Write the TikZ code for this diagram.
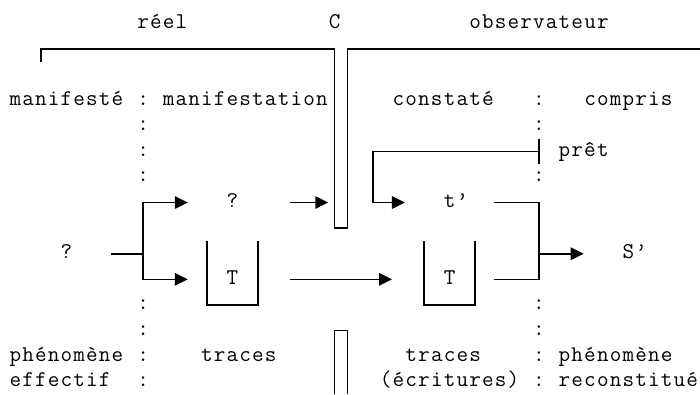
\documentclass[tikz,border=0pt]{standalone}
\usetikzlibrary{arrows.meta}
\newlength\gridcw
\setlength\gridcw{12.77pt}
\def\gridstop{\gridstop}
\def\gridtxt#1{\gridloop#1\gridstop}
\def\gridloop#1{\ifx\gridstop#1\else\hbox to\gridcw{\hss#1\hss}\expandafter\gridloop\fi}
\newcommand\diagfont{\ttfamily\fontsize{22.5}{25}\selectfont}
\tikzset{
  lbl/.style={anchor=base west, inner sep=0pt, outer sep=0pt, font=\diagfont},
  ln/.style={line width=1.6pt, line join=miter},
  arr/.style={ln, -{Triangle[length=13pt,width=12.5pt]}},
}
\begin{document}
\begin{tikzpicture}[x=1pt,y=-1pt]
\useasboundingbox (0,0) rectangle (700,394);
\clip (0,0) rectangle (700,394);
% ---- texts (baseline = row centre + 5)
\node[lbl] (reel) at (136.7,28.4) {\gridtxt{réel}};
\node[lbl] (C) at (328.25,28.4) {\gridtxt{C}};
\node[lbl] (obs) at (468.72,28.4) {\gridtxt{observateur}};
\node[lbl] (manifeste) at (9,105.2) {\gridtxt{manifesté}};
\node[lbl] (c3l) at (136.7,105.2) {\gridtxt{:}};
\node[lbl] (manifestation) at (162.24,105.2) {\gridtxt{manifestation}};
\node[lbl] (constate) at (392.1,105.2) {\gridtxt{constaté}};
\node[lbl] (c3r) at (532.57,105.2) {\gridtxt{:}};
\node[lbl] (compris) at (583.65,105.2) {\gridtxt{compris}};
\node[lbl] (c4l) at (136.7,130.8) {\gridtxt{:}};
\node[lbl] (c4r) at (532.57,130.8) {\gridtxt{:}};
\node[lbl] (c5l) at (136.7,156.4) {\gridtxt{:}};
\node[lbl] (pret) at (558.11,156.4) {\gridtxt{prêt}};
\node[lbl] (c6l) at (136.7,181.9) {\gridtxt{:}};
\node[lbl] (c6r) at (532.57,181.9) {\gridtxt{:}};
\node[lbl] (qup) at (226.09,207.5) {\gridtxt{?}};
\node[lbl] (tp) at (443.18,207.5) {\gridtxt{t’}};
\node[lbl] (q) at (60.08,258.7) {\gridtxt{?}};
\node[lbl] (Sp) at (621.96,258.7) {\gridtxt{S’}};
\node[lbl] (T1) at (226.09,284.3) {\gridtxt{T}};
\node[lbl] (T2) at (443.18,284.3) {\gridtxt{T}};
\node[lbl] (c11l) at (136.7,309.9) {\gridtxt{:}};
\node[lbl] (c11r) at (532.57,309.9) {\gridtxt{:}};
\node[lbl] (c12l) at (136.7,335.5) {\gridtxt{:}};
\node[lbl] (c12r) at (532.57,335.5) {\gridtxt{:}};
\node[lbl] (phen1) at (9,361.1) {\gridtxt{phénomène}};
\node[lbl] (c13l) at (136.7,361.1) {\gridtxt{:}};
\node[lbl] (tr1) at (200.55,361.1) {\gridtxt{traces}};
\node[lbl] (tr2) at (404.87,361.1) {\gridtxt{traces}};
\node[lbl] (c13r) at (532.57,361.1) {\gridtxt{:}};
\node[lbl] (phen2) at (558.11,361.1) {\gridtxt{phénomène}};
\node[lbl] (eff) at (9,386.7) {\gridtxt{effectif}};
\node[lbl] (c14l) at (136.7,386.7) {\gridtxt{:}};
\node[lbl] (ecr) at (379.33,386.7) {\gridtxt{(écritures)}};
\node[lbl] (c14r) at (532.57,386.7) {\gridtxt{:}};
\node[lbl] (rec) at (558.11,386.7) {\gridtxt{reconstitué}};
% ---- coordinates
\coordinate (tlA) at (40.9,61.8);
\coordinate (tlB) at (40.9,49);
\coordinate (bL1) at (334.6,49);
\coordinate (bL2) at (334.6,228.1);
\coordinate (bR2) at (347.4,228.1);
\coordinate (bR1) at (347.4,49);
\coordinate (trE) at (700,49);
\coordinate (lbL0) at (334.6,394);
\coordinate (lbL1) at (334.6,330.5);
\coordinate (lbR1) at (347.4,330.5);
\coordinate (lbR0) at (347.4,394);
\coordinate (lead) at (111.2,253.7);
\coordinate (jn) at (143.1,253.7);
\coordinate (tipU) at (187.8,202.5);
\coordinate (tipD) at (187.8,279.3);
\coordinate (a7s) at (289.9,202.5);
\coordinate (a7e) at (328.25,202.5);
\coordinate (a10s) at (289.9,279.3);
\coordinate (a10e) at (392.1,279.3);
\coordinate (tkT) at (539,138.6);
\coordinate (tkB) at (539,164.2);
\coordinate (tkM) at (539,151.4);
\coordinate (pk1) at (373,151.4);
\coordinate (pkE) at (404.9,202.5);
\coordinate (tpS) at (494.3,202.5);
\coordinate (tpC) at (539,202.5);
\coordinate (tTC) at (539,279.3);
\coordinate (tTS) at (494.3,279.3);
\coordinate (sj) at (539,253.7);
\coordinate (sE) at (583.65,253.7);
\coordinate (b1a) at (207.0,240.9);
\coordinate (b1b) at (207.0,304.9);
\coordinate (b1c) at (258.0,304.9);
\coordinate (b1d) at (258.0,240.9);
\coordinate (b2a) at (424.0,240.9);
\coordinate (b2b) at (424.0,304.9);
\coordinate (b2c) at (475.1,304.9);
\coordinate (b2d) at (475.1,240.9);
% ---- frame and barrier
\draw[ln] (tlA) -- (tlB) -- (bL1) -- (bL2) -- (bR2) -- (bR1) -- (trE);
\draw[ln] (lbL0) -- (lbL1) -- (lbR1) -- (lbR0);
% ---- boxes
\draw[ln] (b1a) -- (b1b) -- (b1c) -- (b1d);
\draw[ln] (b2a) -- (b2b) -- (b2c) -- (b2d);
% ---- connectors
\draw[ln] (lead) -- (jn);
\draw[arr] (jn) |- (tipU);
\draw[arr] (jn) |- (tipD);
\draw[arr] (a7s) -- (a7e);
\draw[arr] (a10s) -- (a10e);
\draw[ln] (tkT) -- (tkB);
\draw[arr] (tkM) -- (pk1) |- (pkE);
\draw[ln] (tpS) -- (tpC) -- (tTC) -- (tTS);
\draw[arr] (sj) -- (sE);
\end{tikzpicture}
\end{document}
